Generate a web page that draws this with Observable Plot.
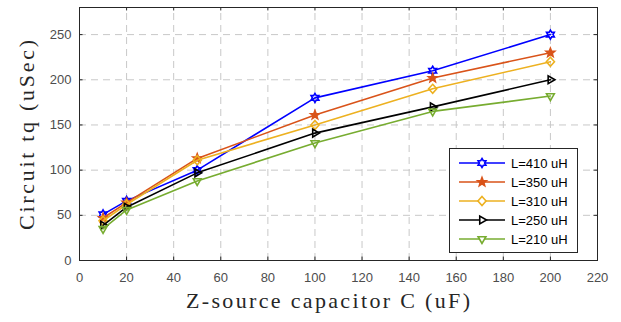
<!DOCTYPE html>
<html>
<head>
<meta charset="utf-8">
<script src="https://cdn.jsdelivr.net/npm/d3@7"></script>
<script src="https://cdn.jsdelivr.net/npm/@observablehq/plot@0.6"></script>
<style>
  html, body { margin: 0; padding: 0; background: #fff; }
  #chart { width: 621px; height: 322px; }
</style>
</head>
<body>
<div id="chart"></div>
<script>
const capacitance = [10, 20, 50, 100, 150, 200];
const L410 = [51, 66, 100, 180, 210, 250];
const L350 = [47, 64, 113, 161, 202, 230];
const L310 = [44, 62, 111, 150, 190, 220];
const L250 = [39, 59, 97, 141, 170, 200];
const L210 = [35, 56, 88, 130, 165, 182];
const seriesNames = ["L=410 uH", "L=350 uH", "L=310 uH", "L=250 uH", "L=210 uH"];
const xTicks = [0, 20, 40, 60, 80, 100, 120, 140, 160, 180, 200, 220];
const yTicks = [0, 50, 100, 150, 200, 250];

const colors = ["#0000FF", "#D95319", "#EDB120", "#000000", "#77AC30"];

function rad(size) { return Math.sqrt(size / Math.PI); }
const hexagram = { draw(ctx, size) { const R = rad(size), r = R * 0.58;
  for (let i = 0; i < 12; i++) { const a = i * Math.PI / 6 - Math.PI / 2, q = i % 2 ? r : R;
    i ? ctx.lineTo(q * Math.cos(a), q * Math.sin(a)) : ctx.moveTo(q * Math.cos(a), q * Math.sin(a)); }
  ctx.closePath(); } };
const pentagram = { draw(ctx, size) { const R = rad(size), r = R * 0.42;
  for (let i = 0; i < 10; i++) { const a = i * Math.PI / 5 - Math.PI / 2, q = i % 2 ? r : R;
    i ? ctx.lineTo(q * Math.cos(a), q * Math.sin(a)) : ctx.moveTo(q * Math.cos(a), q * Math.sin(a)); }
  ctx.closePath(); } };
const diamond = { draw(ctx, size) { const R = rad(size);
  ctx.moveTo(0, -R); ctx.lineTo(R * 0.9, 0); ctx.lineTo(0, R); ctx.lineTo(-R * 0.9, 0); ctx.closePath(); } };
const triRight = { draw(ctx, size) { const R = rad(size);
  ctx.moveTo(R, 0); ctx.lineTo(-R * 0.5, -R * 0.866); ctx.lineTo(-R * 0.5, R * 0.866); ctx.closePath(); } };
const triDown = { draw(ctx, size) { const R = rad(size);
  ctx.moveTo(0, R); ctx.lineTo(-R * 0.866, -R * 0.5); ctx.lineTo(R * 0.866, -R * 0.5); ctx.closePath(); } };
const symbols = [hexagram, pentagram, diamond, triRight, triDown];
const fills = ["none", colors[1], "none", "none", "none"];
const radii = [4.5, 4.5, 4.5, 4.5, 4.5];

const allSeries = [L410, L350, L310, L250, L210];
const rows = [];
allSeries.forEach((vals, s) => vals.forEach((v, i) => rows.push({ s, x: capacitance[i], y: v })));

const gridX = xTicks.slice(1, -1);
const gridY = yTicks.slice(1);

const marks = [
  Plot.ruleX(gridX, { x: d => d, y1: 0, y2: 280, stroke: "#c8c8c8", strokeOpacity: 1, strokeWidth: 1, strokeDasharray: "7 5" }),
  Plot.ruleY(gridY, { y: d => d, x1: 0, x2: 220, stroke: "#c8c8c8", strokeOpacity: 1, strokeWidth: 1, strokeDasharray: "7 5" }),
  Plot.axisX(xTicks, { tickSize: 0, tickPadding: 12, fontSize: 13, fill: "#4d4d4d", label: null }),
  Plot.axisY(yTicks, { tickSize: 0, tickPadding: 8, fontSize: 13, fill: "#4d4d4d", label: null }),
];
allSeries.forEach((vals, s) => {
  const d = rows.filter(r => r.s === s);
  marks.push(Plot.line(d, { x: "x", y: "y", stroke: colors[s], strokeWidth: 1.6 }));
  marks.push(Plot.dot(d, { x: "x", y: "y", symbol: symbols[s], r: radii[s], stroke: colors[s], fill: fills[s], strokeWidth: 1.6 }));
});
marks.push(Plot.ruleX(xTicks, { x: d => d, y1: 0, y2: 3.8, stroke: "#262626" }));
marks.push(Plot.ruleX(xTicks, { x: d => d, y1: 280, y2: 276.2, stroke: "#262626" }));
marks.push(Plot.ruleY(yTicks, { y: d => d, x1: 0, x2: 1.5, stroke: "#262626" }));
marks.push(Plot.ruleY(yTicks, { y: d => d, x1: 220, x2: 218.5, stroke: "#262626" }));
marks.push(Plot.frame({ stroke: "#262626" }));

const chart = Plot.plot({
  width: 621, height: 322,
  marginLeft: 79, marginRight: 24, marginTop: 7, marginBottom: 62,
  style: { fontFamily: "'Liberation Sans', Arial, sans-serif", background: "#fff", overflow: "visible" },
  x: { domain: [0, 220], label: null },
  y: { domain: [0, 280], label: null },
  marks
});

const svg = d3.select(chart);
const serif = "'Liberation Serif', 'DejaVu Serif', serif";
// axis titles
svg.append("text").attr("x", 328).attr("y", 308).attr("text-anchor", "middle")
  .attr("font-family", serif).attr("font-size", 22).attr("fill", "#262626")
  .attr("textLength", 284).attr("lengthAdjust", "spacing")
  .text("Z-source capacitor C (uF)");
svg.append("text").attr("transform", "translate(34,135) rotate(-90)").attr("text-anchor", "middle")
  .attr("font-family", serif).attr("font-size", 22).attr("fill", "#262626")
  .attr("textLength", 190).attr("lengthAdjust", "spacing")
  .text("Circuit tq (uSec)");

// legend
const lg = svg.append("g");
lg.append("rect").attr("x", 449.5).attr("y", 148.5).attr("width", 128).attr("height", 104)
  .attr("fill", "#fff").attr("stroke", "#262626").attr("stroke-width", 1);
seriesNames.forEach((name, s) => {
  const y = 163 + s * 19;
  lg.append("line").attr("x1", 459).attr("x2", 505).attr("y1", y).attr("y2", y)
    .attr("stroke", colors[s]).attr("stroke-width", 1.6);
  lg.append("path").attr("transform", `translate(482,${y})`)
    .attr("d", d3.symbol(symbols[s], radii[s] * radii[s] * Math.PI)())
    .attr("stroke", colors[s]).attr("fill", fills[s] === "none" ? "#fff" : fills[s]).attr("stroke-width", 1.6);
  lg.append("text").attr("x", 511).attr("y", y).attr("dy", "0.36em").attr("text-anchor", "start")
    .attr("font-family", "'Liberation Sans', Arial, sans-serif").attr("font-size", 13).attr("fill", "#000")
    .text(name);
});

document.getElementById("chart").appendChild(chart);
</script>
</body>
</html>
